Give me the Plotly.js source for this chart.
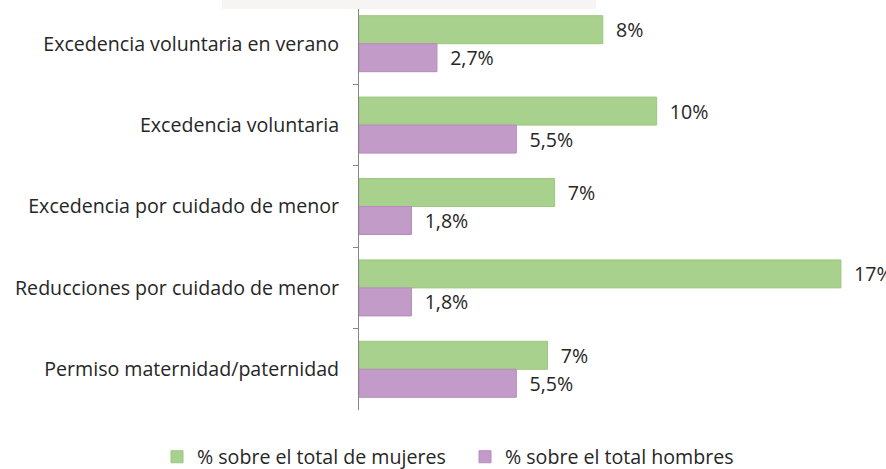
<!DOCTYPE html>
<html>
<head>
<meta charset="utf-8">
<script src="https://cdn.plot.ly/plotly-3.0.1.min.js"></script>
<style>html,body{margin:0;padding:0;background:#fff;}#chart{width:886px;height:469px;}</style>
</head>
<body>
<div id="chart"></div>
<script>
const categories = [
  "Excedencia voluntaria en verano",
  "Excedencia voluntaria",
  "Excedencia por cuidado de menor",
  "Reducciones por cuidado de menor",
  "Permiso maternidad/paternidad"
];
const mujeresValues = [8.6, 10.5, 6.9, 17.0, 6.65];
const hombresValues = [2.75, 5.55, 1.85, 1.85, 5.55];
const mujeresLabels = ["8%", "10%", "7%", "17%", "7%"];
const hombresLabels = ["2,7%", "5,5%", "1,8%", "1,8%", "5,5%"];
const seriesNames = ["% sobre el total de mujeres", "% sobre el total hombres"];

const FONT = "Open Sans, Noto Sans, sans-serif";
const FS = 19.6;
const pad = s => "\u00a0\u00a0" + s;

const traces = [
  {
    type: "bar", orientation: "h", name: seriesNames[0], legend: "legend",
    y: categories, x: mujeresValues,
    text: mujeresLabels.map(pad), textposition: "outside", cliponaxis: false,
    textfont: {family: FONT, size: FS, color: "#262626"},
    marker: {color: "#A9D18E", line: {color: "#9BC77E", width: 1}},
    hoverinfo: "skip"
  },
  {
    type: "bar", orientation: "h", name: seriesNames[1], legend: "legend2",
    y: categories, x: hombresValues,
    text: hombresLabels.map(pad), textposition: "outside", cliponaxis: false,
    textfont: {family: FONT, size: FS, color: "#262626"},
    marker: {color: "#C39BC8", line: {color: "#B58BBD", width: 1}},
    hoverinfo: "skip"
  }
];

const legendBase = {
  orientation: "h", xref: "container", yref: "container",
  xanchor: "left", y: 12 / 469, yanchor: "middle",
  font: {family: FONT, size: FS, color: "#262626"},
  itemwidth: 30, bgcolor: "rgba(0,0,0,0)"
};

const layout = {
  width: 886, height: 469,
  margin: {l: 359, r: 0, t: 3, b: 59},
  paper_bgcolor: "#ffffff", plot_bgcolor: "#ffffff",
  barmode: "group", bargap: 0.312, bargroupgap: 0,
  showlegend: true,
  legend: Object.assign({}, legendBase, {x: 157 / 886}),
  legend2: Object.assign({}, legendBase, {x: 465 / 886}),
  xaxis: {
    range: [0, 18.59], showgrid: false, zeroline: false,
    showticklabels: false, showline: false, ticks: ""
  },
  yaxis: {
    type: "category", autorange: "reversed",
    showline: true, linecolor: "#868686", linewidth: 1,
    ticks: "outside", ticklen: 5, tickcolor: "#868686", tickson: "boundaries",
    ticklabelstandoff: 15,
    tickfont: {family: FONT, size: FS, color: "#262626"},
    showgrid: false, zeroline: false
  },
  shapes: [
    {type: "rect", xref: "paper", yref: "paper", layer: "above",
     x0: (222 - 359) / 527, x1: (596 - 359) / 527, y0: 1 + 3 / 407, y1: 1 - 6 / 407,
     fillcolor: "#F6F5F3", line: {width: 0}}
  ],
  font: {family: FONT}
};

Plotly.newPlot("chart", traces, layout, {displayModeBar: false, staticPlot: true});
</script>
</body>
</html>
